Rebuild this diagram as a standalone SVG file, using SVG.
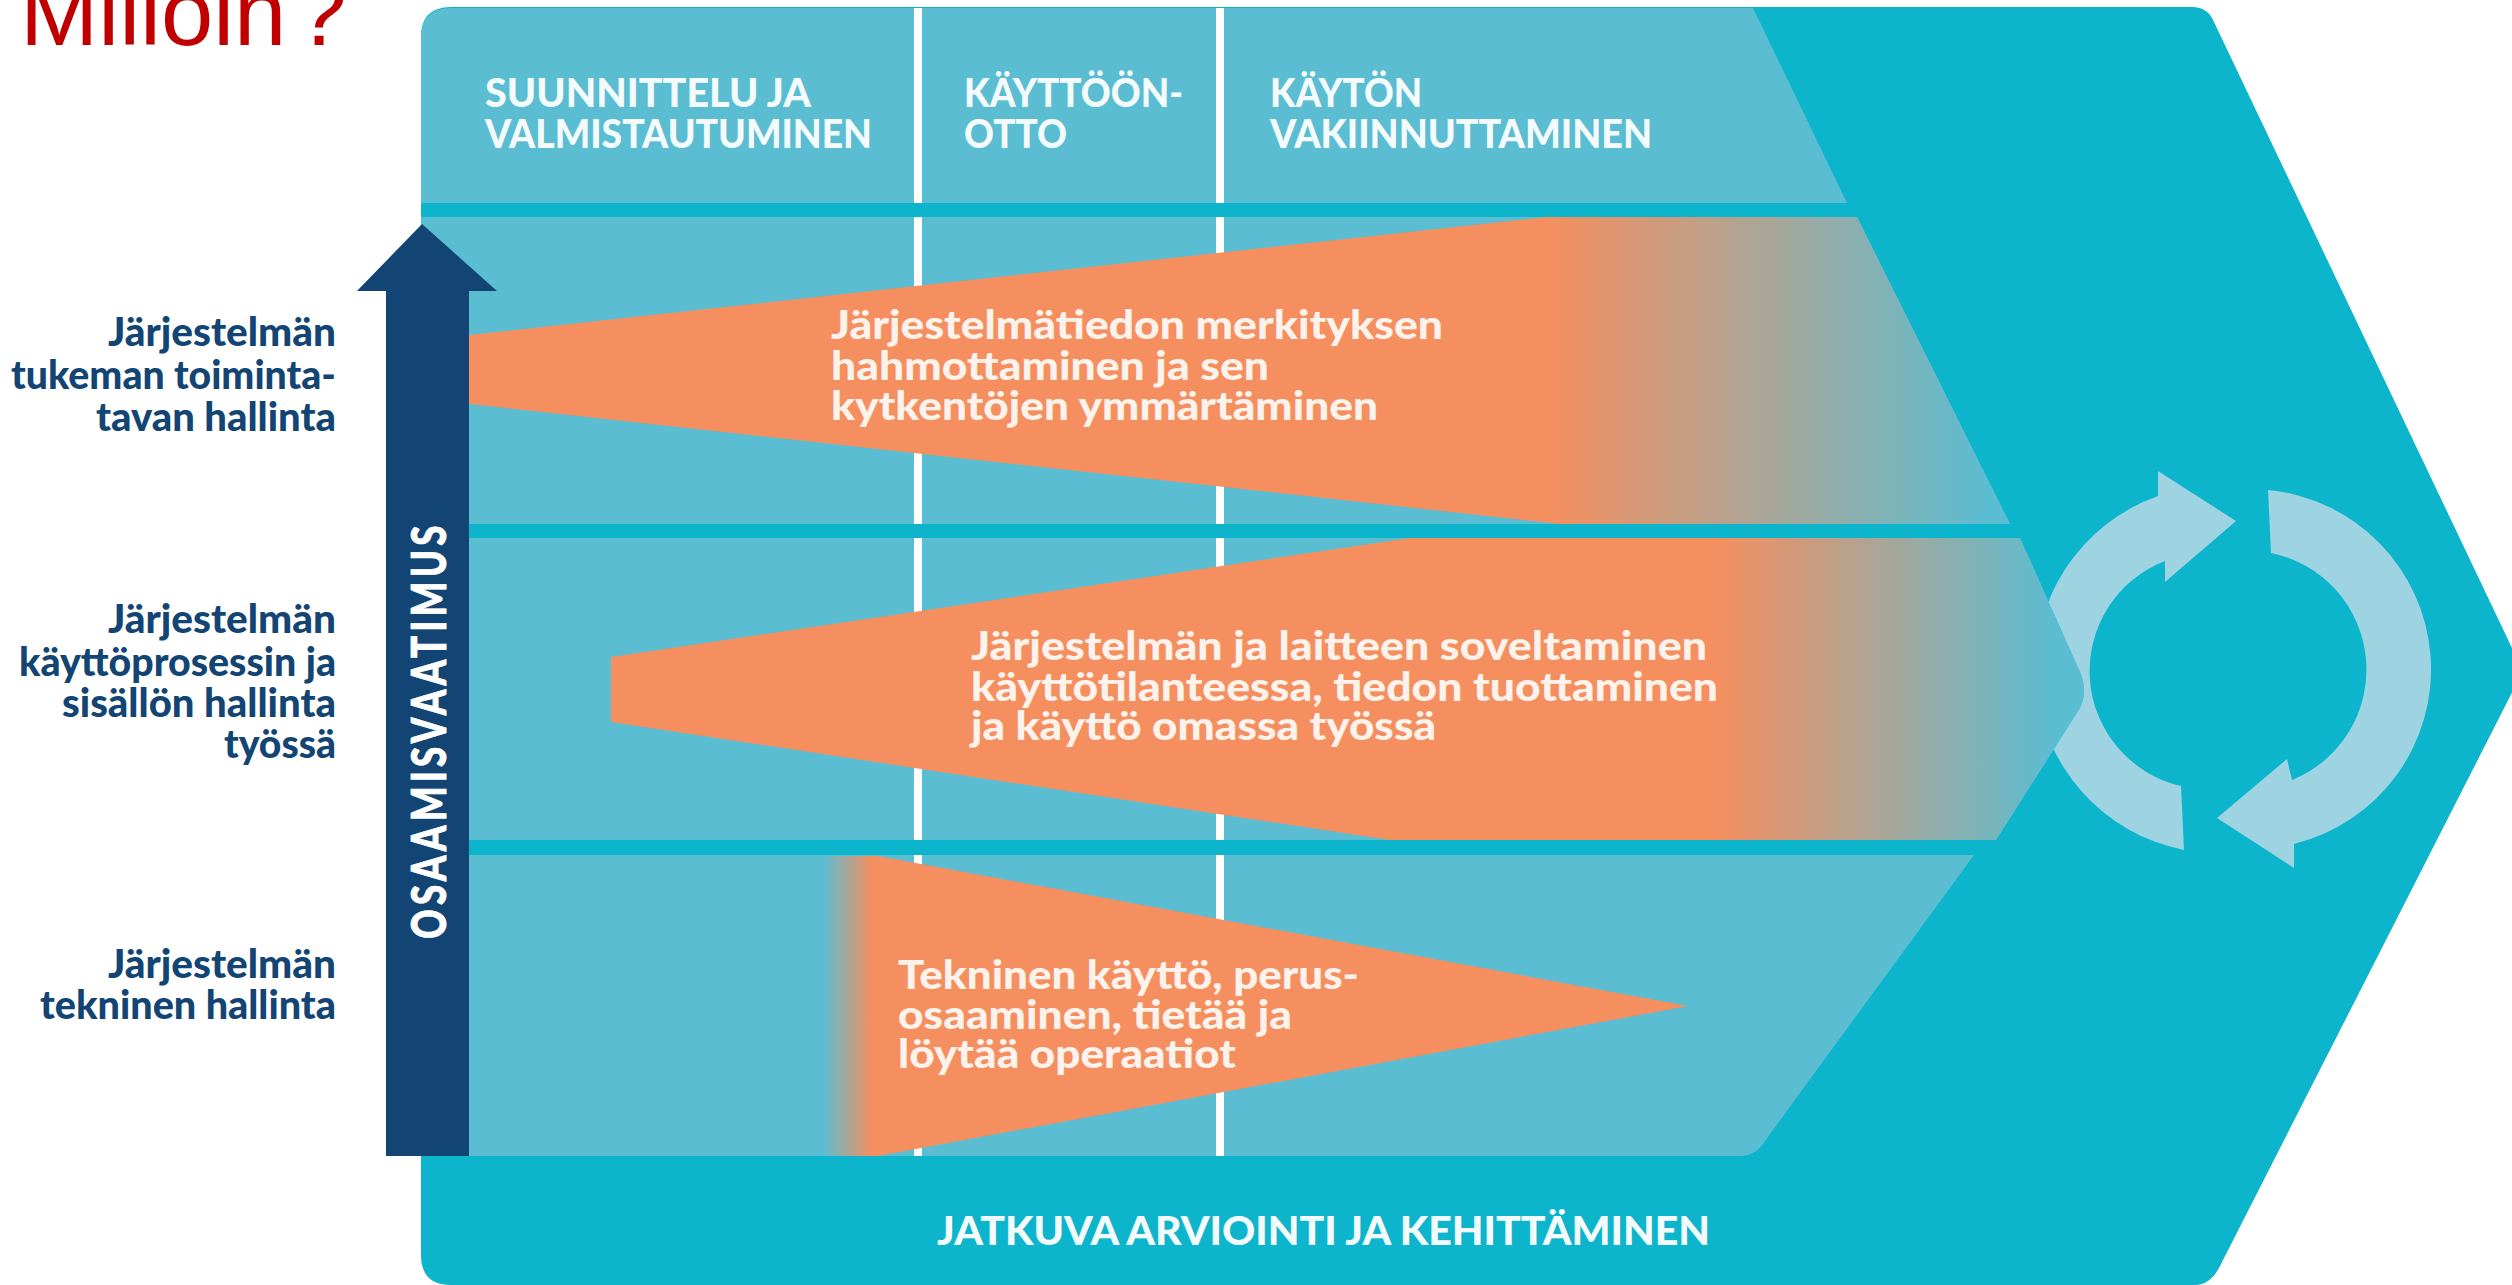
<svg xmlns="http://www.w3.org/2000/svg" width="2512" height="1285" viewBox="0 0 2512 1285">
<style>
.t{font-family:"Lato","Noto Sans","Liberation Sans",sans-serif;font-weight:900}
.h{font-size:39px;fill:#f4fbfc}
.o{font-size:39px;fill:#fdf3ec}
.l{font-size:40px;fill:#134574}
.band{fill:#0db5cc}
.panel{fill:#5bbdd2}
.col{fill:#ffffff}
.cyc{fill:#9ed3e2}
</style>
<defs>
<linearGradient id="g1" gradientUnits="userSpaceOnUse" x1="1548" y1="0" x2="1990" y2="0"><stop offset="0" stop-color="#f58f5f"/><stop offset="1" stop-color="#5bbdd2"/></linearGradient>
<linearGradient id="g2" gradientUnits="userSpaceOnUse" x1="1715" y1="0" x2="2055" y2="0"><stop offset="0" stop-color="#f58f5f"/><stop offset="1" stop-color="#5bbdd2"/></linearGradient>
<linearGradient id="g3" gradientUnits="userSpaceOnUse" x1="823" y1="0" x2="872" y2="0"><stop offset="0" stop-color="#5bbdd2"/><stop offset="1" stop-color="#f58f5f"/></linearGradient>
</defs>
<rect width="2512" height="1285" fill="#ffffff"/>
<text id="title" x="20" y="45" font-family="'Liberation Sans',Arial,sans-serif" font-size="94" fill="#c00000">Milloin<tspan dx="-18"> ?</tspan></text>
<g id="frame">
<path d="M451,7 H2192 Q2208,7 2214,22 L2523,671 L2222,1262 Q2212,1285 2195,1285 H451 Q421,1285 421,1255 V37 Q421,7 451,7 Z" fill="#0db5cc"/>
</g>
<g id="cycle">
<path class="cyc" d="M2236,521 L2158,471 L2158,496 A184,184 0 0 0 2184,850 L2181,786 A118,118 0 0 1 2165,561 L2165,582 Z"/>
<path class="cyc" d="M2268,490 A180,180 0 0 1 2294,844 L2294,868 L2217,818 L2287,759 L2292,780 A119,119 0 0 0 2271,553 Z"/>
</g>
<g id="panels">
<path class="panel" d="M451,8 H1753 L1847,203 H421 V38 Q421,8 451,8 Z"/>
<path class="panel" d="M421,217 H1857 L2010,524 H421 Z"/>
<path class="panel" d="M421,538 H2020 L2080,672 Q2088,690 2080,708 L1996,840 H421 Z"/>
<path class="panel" d="M421,855 H1974 L1767,1138 Q1757,1156 1740,1156 H421 Z"/>
</g>
<g id="connectors">
<rect class="col" x="914" y="8" width="8" height="1148"/>
<rect class="col" x="1216" y="8" width="8" height="1148"/>
<rect class="band" x="421" y="203" width="1440" height="14"/>
<rect class="band" x="421" y="524" width="1600" height="14"/>
<rect class="band" x="421" y="840" width="1576" height="15"/>
</g>
<g id="level-1">
<path d="M469,335 L1546,217 H1857 L2010,524 H1560 L469,404 Z" fill="url(#g1)"/>
<text class="t o" x="831" y="339" textLength="612" lengthAdjust="spacingAndGlyphs">Järjestelmätiedon merkityksen</text>
<text class="t o" x="831" y="380" textLength="438" lengthAdjust="spacingAndGlyphs">hahmottaminen ja sen</text>
<text class="t o" x="831" y="420" textLength="547" lengthAdjust="spacingAndGlyphs">kytkentöjen ymmärtäminen</text>
</g>
<g id="level-2">
<path d="M611,657 L1410,538 H2020 L2080,672 Q2088,690 2080,708 L1996,840 H1390 L611,722 Z" fill="url(#g2)"/>
<text class="t o" x="971" y="660" textLength="736" lengthAdjust="spacingAndGlyphs">Järjestelmän ja laitteen soveltaminen</text>
<text class="t o" x="971" y="701" textLength="747" lengthAdjust="spacingAndGlyphs">käyttötilanteessa, tiedon tuottaminen</text>
<text class="t o" x="971" y="740" textLength="465" lengthAdjust="spacingAndGlyphs">ja käyttö omassa työssä</text>
</g>
<g id="level-3">
<path d="M823,856 H878 L1688,1006 L878,1156 H823 Z" fill="url(#g3)"/>
<text class="t o" x="898" y="989" textLength="461" lengthAdjust="spacingAndGlyphs">Tekninen käyttö, perus-</text>
<text class="t o" x="898" y="1029" textLength="394" lengthAdjust="spacingAndGlyphs">osaaminen, tietää ja</text>
<text class="t o" x="898" y="1068" textLength="338" lengthAdjust="spacingAndGlyphs">löytää operaatiot</text>
</g>
<g id="phases">
<text class="t h" x="485" y="107" textLength="326" lengthAdjust="spacingAndGlyphs">SUUNNITTELU JA</text>
<text class="t h" x="485" y="148" textLength="387" lengthAdjust="spacingAndGlyphs">VALMISTAUTUMINEN</text>
<text class="t h" x="964" y="107" textLength="219" lengthAdjust="spacingAndGlyphs">KÄYTTÖÖN-</text>
<text class="t h" x="964" y="148" textLength="103" lengthAdjust="spacingAndGlyphs">OTTO</text>
<text class="t h" x="1270" y="107" textLength="152" lengthAdjust="spacingAndGlyphs">KÄYTÖN</text>
<text class="t h" x="1270" y="148" textLength="382" lengthAdjust="spacingAndGlyphs">VAKIINNUTTAMINEN</text>
</g>
<g id="arrow">
<path d="M422,224 L497,291 H469 V1156 H386 V291 H357 Z" fill="#134574"/>
<text class="t" transform="translate(446,939) rotate(-90) scale(.78,1)" font-size="47" fill="#ffffff" stroke="#ffffff" stroke-width="0.8" textLength="530" lengthAdjust="spacing">OSAAMISVAATIMUS</text>
</g>
<g id="label-1">
<text class="t l" x="108" y="346" textLength="228" lengthAdjust="spacingAndGlyphs">Järjestelmän</text>
<text class="t l" x="11" y="389" textLength="325" lengthAdjust="spacingAndGlyphs">tukeman toiminta-</text>
<text class="t l" x="96" y="431" textLength="240" lengthAdjust="spacingAndGlyphs">tavan hallinta</text>
</g>
<g id="label-2">
<text class="t l" x="108" y="633" textLength="228" lengthAdjust="spacingAndGlyphs">Järjestelmän</text>
<text class="t l" x="19" y="676" textLength="317" lengthAdjust="spacingAndGlyphs">käyttöprosessin ja</text>
<text class="t l" x="62" y="717" textLength="274" lengthAdjust="spacingAndGlyphs">sisällön hallinta</text>
<text class="t l" x="224" y="758" textLength="112" lengthAdjust="spacingAndGlyphs">työssä</text>
</g>
<g id="label-3">
<text class="t l" x="108" y="978" textLength="228" lengthAdjust="spacingAndGlyphs">Järjestelmän</text>
<text class="t l" x="40" y="1019" textLength="296" lengthAdjust="spacingAndGlyphs">tekninen hallinta</text>
</g>
<g id="footer">
<text class="t h" x="937" y="1245" textLength="773" lengthAdjust="spacingAndGlyphs">JATKUVA ARVIOINTI JA KEHITTÄMINEN</text>
</g>
</svg>
